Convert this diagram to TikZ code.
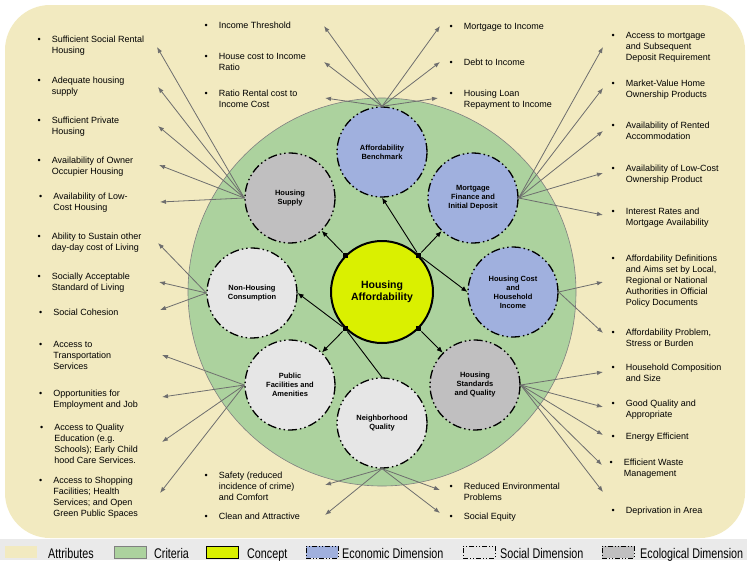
\documentclass[tikz,border=0pt]{standalone}
\usepackage{fontspec}
\setmainfont{Liberation Sans}
\newfontfamily\legendfont[FakeStretch=0.77]{Liberation Sans}
\usetikzlibrary{arrows.meta}
\definecolor{attrbg}{RGB}{242,234,192}
\definecolor{critgreen}{RGB}{172,210,158}
\definecolor{conceptyellow}{RGB}{218,240,0}
\definecolor{econblue}{RGB}{160,176,222}
\definecolor{socialgrey}{RGB}{230,230,230}
\definecolor{ecogrey}{RGB}{192,191,192}
\definecolor{arrowgrey}{RGB}{110,110,110}
\definecolor{legendbg}{RGB}{234,234,234}
\newcommand{\attrlines}[1]{\begin{tabular}[t]{@{}l@{\hspace{11pt}}l@{}}#1\end{tabular}}
\tikzset{
dimborder/.style={draw=black, line width=1.3pt, dash pattern=on 9pt off 3pt on 1.5pt off 3pt on 1.5pt off 3pt},
keyborder/.style={draw=black, line width=0.9pt, dash pattern=on 5pt off 2pt on 1pt off 2pt on 1pt off 2pt},
dimcircle/.style={shape=circle, dimborder, minimum size=90pt, inner sep=0pt, align=center, font=\fontsize{7.5}{9}\selectfont\bfseries},
concept/.style={shape=circle, draw=black, line width=2pt, fill=conceptyellow, minimum size=102pt, inner sep=0pt, align=center, font=\fontsize{10.5}{12}\selectfont\bfseries},
knot/.style={shape=rectangle, fill=black, minimum size=5pt, inner sep=0pt},
link/.style={-{Latex[length=6pt,width=5pt]}, line width=0.9pt},
feed/.style={-{Latex[length=6pt,width=4.5pt]}, draw=arrowgrey, line width=0.8pt},
attr/.style={inner sep=0pt, anchor=base west, font=\fontsize{9}{11}\selectfont},
swatch/.style={minimum width=32pt, minimum height=12pt, inner sep=0pt},
legtext/.style={inner sep=0pt, anchor=base west, font=\legendfont\fontsize{14}{14}\selectfont}
}
\begin{document}
\begin{tikzpicture}[x=1pt, y=-1pt]
    \useasboundingbox (0,0) rectangle (747,560);

                \fill[attrbg, rounded corners=45pt] (5,5) rectangle (745,538);
                \fill[legendbg] (0,539) rectangle (747,560);
                \draw[gray, line width=0.6pt, fill=critgreen] (382,292) circle[radius=194pt];

                \node[dimcircle, fill=econblue] (bench) at (382,152) {Affordability\\Benchmark};
                \node[dimcircle, fill=econblue] (mort) at (473,198) {Mortgage\\Finance and\\Initial Deposit};
                \node[dimcircle, fill=econblue] (hcost) at (513,292) {Housing Cost\\and\\Household\\Income};
                \node[dimcircle, fill=ecogrey] (std) at (475,385) {Housing\\Standards\\and Quality};
                \node[dimcircle, fill=socialgrey] (nq) at (382,423) {Neighborhood\\Quality};
                \node[dimcircle, fill=socialgrey] (pub) at (290,385) {Public\\Facilities and\\Amenities};
                \node[dimcircle, fill=socialgrey] (nonh) at (252,293) {Non-Housing\\Consumption};
                \node[dimcircle, fill=ecogrey] (supply) at (290,198) {Housing\\Supply};
                \node[concept] (ha) at (382,292) {Housing\\Affordability};

                \node[knot] (ul) at (ha.135) {};
                \node[knot] (ur) at (ha.45) {};
                \node[knot] (ll) at (ha.225) {};
                \node[knot] (lr) at (ha.315) {};

                \draw[link] (ul) -- (supply);
                \draw[link] (ur) -- (bench.south);
                \draw[link] (ur) -- (mort);
                \draw[link] (ur) -- (hcost.west);
                \draw[link] (lr) -- (std);
                \draw[link] (ll) -- (pub);
                \draw[link] (ll) -- (nonh.east);
                \draw[line width=0.9pt] (ll) -- (nq.north);

                \node[attr] (socrent) at (37.5,42) {\attrlines{\textbullet & Sufficient Social Rental\\ & Housing}};
                \node[attr] (adequate) at (37.5,83) {\attrlines{\textbullet & Adequate housing\\ & supply}};
                \node[attr] (private) at (37.5,123) {\attrlines{\textbullet & Sufficient Private\\ & Housing}};
                \node[attr] (owner) at (37.5,163) {\attrlines{\textbullet & Availability of Owner\\ & Occupier Housing}};
                \node[attr] (lowcost) at (39,199) {\attrlines{\textbullet & Availability of Low-\\ & Cost Housing}};
                \node[attr] (sustain) at (37.5,239) {\attrlines{\textbullet & Ability to Sustain other\\ & day-day cost of Living}};
                \node[attr] (accept) at (37.5,279) {\attrlines{\textbullet & Socially Acceptable\\ & Standard of Living}};
                \node[attr] (cohesion) at (39,315) {\attrlines{\textbullet & Social Cohesion}};
                \node[attr] (transport) at (39,347) {\attrlines{\textbullet & Access to\\ & Transportation\\ & Services}};
                \node[attr] (jobs) at (39,396) {\attrlines{\textbullet & Opportunities for\\ & Employment and Job}};
                \node[attr] (school) at (40,430) {\attrlines{\textbullet & Access to Quality\\ & Education (e.g.\\ & Schools); Early Child\\ & hood Care Services.}};
                \node[attr] (shops) at (39,483) {\attrlines{\textbullet & Access to Shopping\\ & Facilities; Health\\ & Services; and Open\\ & Green Public Spaces}};

                \node[attr] (threshold) at (204.5,28) {\attrlines{\textbullet & Income Threshold}};
                \node[attr] (costratio) at (204.5,59) {\attrlines{\textbullet & House cost to Income\\ & Ratio}};
                \node[attr] (rentratio) at (204.5,96) {\attrlines{\textbullet & Ratio Rental cost to\\ & Income Cost}};
                \node[attr] (mortinc) at (449.5,29) {\attrlines{\textbullet & Mortgage to Income}};
                \node[attr] (debtinc) at (449.5,65) {\attrlines{\textbullet & Debt to Income}};
                \node[attr] (loanrep) at (449.5,96) {\attrlines{\textbullet & Housing Loan\\ & Repayment to Income}};

                \node[attr] (access) at (611.5,38) {\attrlines{\textbullet & Access to mortgage\\ & and Subsequent\\ & Deposit Requirement}};
                \node[attr] (market) at (611.5,86) {\attrlines{\textbullet & Market-Value Home\\ & Ownership Products}};
                \node[attr] (rented) at (611.5,128) {\attrlines{\textbullet & Availability of Rented\\ & Accommodation}};
                \node[attr] (lowown) at (611.5,171) {\attrlines{\textbullet & Availability of Low-Cost\\ & Ownership Product}};
                \node[attr] (rates) at (611.5,214) {\attrlines{\textbullet & Interest Rates and\\ & Mortgage Availability}};
                \node[attr] (defs) at (611.5,261) {\attrlines{\textbullet & Affordability Definitions\\ & and Aims set by Local,\\ & Regional or National\\ & Authorities in Official\\ & Policy Documents}};
                \node[attr] (burden) at (611.5,335) {\attrlines{\textbullet & Affordability Problem,\\ & Stress or Burden}};
                \node[attr] (hhsize) at (611.5,370) {\attrlines{\textbullet & Household Composition\\ & and Size}};
                \node[attr] (goodq) at (611.5,406) {\attrlines{\textbullet & Good Quality and\\ & Appropriate}};
                \node[attr] (energy) at (611.5,439) {\attrlines{\textbullet & Energy Efficient}};
                \node[attr] (waste) at (609.5,465) {\attrlines{\textbullet & Efficient Waste\\ & Management}};
                \node[attr] (depriv) at (611.5,513) {\attrlines{\textbullet & Deprivation in Area}};

                \node[attr] (safety) at (204.5,478) {\attrlines{\textbullet & Safety (reduced\\ & incidence of crime)\\ & and Comfort}};
                \node[attr] (clean) at (204.5,519) {\attrlines{\textbullet & Clean and Attractive}};
                \node[attr] (envprob) at (449.5,489) {\attrlines{\textbullet & Reduced Environmental\\ & Problems}};
                \node[attr] (equity) at (449.5,519) {\attrlines{\textbullet & Social Equity}};

                \coordinate (s1) at (157,47);
                \coordinate (s2) at (158,87);
                \coordinate (s3) at (158,126);
                \coordinate (s4) at (159,165);
                \coordinate (s5) at (160,202);
                \coordinate (n1) at (158,243);
                \coordinate (n2) at (159,282);
                \coordinate (n3) at (160,310);
                \coordinate (p1) at (162,355);
                \coordinate (p2) at (162,397);
                \coordinate (p3) at (162,442);
                \coordinate (p4) at (160,493);
                \coordinate (q1) at (325,485);
                \coordinate (q2) at (325,515);
                \coordinate (q3) at (440,490);
                \coordinate (q4) at (440,513);
                \coordinate (b1) at (324,26);
                \coordinate (b2) at (324,62);
                \coordinate (b3) at (325,98);
                \coordinate (b4) at (440,26);
                \coordinate (b5) at (440,62);
                \coordinate (b6) at (438,98);
                \coordinate (m1) at (603,47);
                \coordinate (m2) at (603,88);
                \coordinate (m3) at (603,131);
                \coordinate (m4) at (603,173);
                \coordinate (m5) at (603,215);
                \coordinate (h1) at (603,282);
                \coordinate (h2) at (603,333);
                \coordinate (d1) at (603,372);
                \coordinate (d2) at (603,407);
                \coordinate (d3) at (603,435);
                \coordinate (d4) at (602,465);
                \coordinate (d5) at (603,492);

                \foreach \e in {s1,s2,s3,s4,s5} \draw[feed] (supply.west) -- (\e);
                \foreach \e in {n1,n2,n3} \draw[feed] (nonh.west) -- (\e);
                \foreach \e in {p1,p2,p3,p4} \draw[feed] (pub.west) -- (\e);
                \foreach \e in {q1,q2,q3,q4} \draw[feed] (nq.south) -- (\e);
                \foreach \e in {b1,b2,b3,b4,b5,b6} \draw[feed] (bench.north) -- (\e);
                \foreach \e in {m1,m2,m3,m4,m5} \draw[feed] (mort.east) -- (\e);
                \foreach \e in {h1,h2} \draw[feed] (hcost.east) -- (\e);
                \foreach \e in {d1,d2,d3,d4,d5} \draw[feed] (std.east) -- (\e);

                \node[swatch, fill=attrbg] (key-attr) at (20.5,552) {};
                \node[legtext] (key-attr-text) at (48,558) {Attributes};
                \node[swatch, fill=critgreen, draw=gray, line width=0.6pt] (key-crit) at (130,552) {};
                \node[legtext] (key-crit-text) at (154,558) {Criteria};
                \node[swatch, fill=conceptyellow, draw=black, line width=1pt] (key-conc) at (222,552) {};
                \node[legtext] (key-conc-text) at (247,558) {Concept};
                \node[swatch, fill=econblue, keyborder] (key-econ) at (322,552) {};
                \node[legtext] (key-econ-text) at (342,558) {Economic Dimension};
                \node[swatch, fill=socialgrey, keyborder] (key-soc) at (479,552) {};
                \node[legtext] (key-soc-text) at (500,558) {Social Dimension};
                \node[swatch, fill=ecogrey, keyborder] (key-eco) at (618,552) {};
                \node[legtext] (key-eco-text) at (640,558) {Ecological Dimension};

            \end{tikzpicture}
\end{document}
